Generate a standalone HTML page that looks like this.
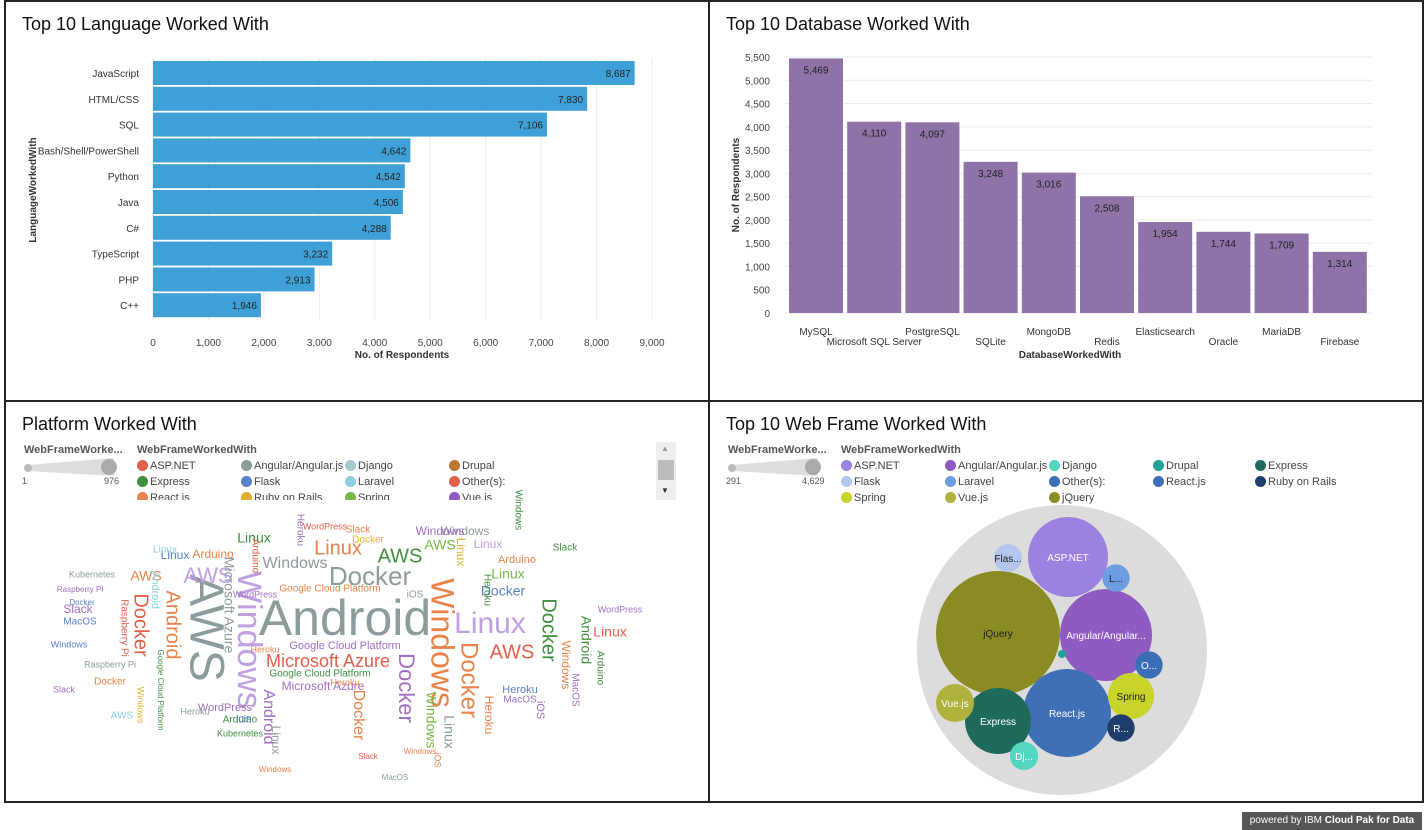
<!DOCTYPE html>
<html><head><meta charset="utf-8">
<style>
body{margin:0;width:1427px;height:830px;background:#fff;font-family:"Liberation Sans",sans-serif;overflow:hidden;position:relative}
.panel{position:absolute;border:2px solid #222;box-sizing:border-box;background:#fff}
.title{position:absolute;left:16px;top:12px;font-size:18px;color:#111}
svg text{font-family:"Liberation Sans",sans-serif}
.leg{position:absolute;font-size:11px;color:#444;white-space:nowrap}
.dot{display:inline-block;width:11px;height:11px;border-radius:50%;vertical-align:-2px;margin-right:2px}
</style></head><body>
<div class="panel" style="left:4px;top:0;width:706px;height:402px"><div class="title">Top 10 Language Worked With</div></div>
<div class="panel" style="left:708px;top:0;width:716px;height:402px"><div class="title">Top 10 Database Worked With</div></div>
<div class="panel" style="left:4px;top:400px;width:706px;height:403px"><div class="title">Platform Worked With</div></div>
<div class="panel" style="left:708px;top:400px;width:716px;height:403px"><div class="title">Top 10 Web Frame Worked With</div></div>
<div style="position:absolute;left:1242px;top:812px;width:180px;height:18px;background:#555;color:#fff;font-size:10px;line-height:18px;text-align:center">powered by IBM <b>Cloud Pak for Data</b></div>

<div class="leg" style="left:24px;top:444px;font-weight:bold;color:#555">WebFrameWorke...</div>
<svg style="position:absolute;left:22px;top:456px" width="100" height="30"><polygon points="6,9 92,2 92,20 6,15" fill="#ddd"/><circle cx="6" cy="12" r="4" fill="#bbb"/><circle cx="87" cy="11" r="8" fill="#aaa"/><text x="0" y="28" font-size="9" fill="#555">1</text><text x="82" y="28" font-size="9" fill="#555">976</text></svg>
<div class="leg" style="left:137px;top:444px;font-weight:bold;color:#555">WebFrameWorkedWith</div>
<div style="position:absolute;left:137px;top:460px;width:520px;height:40px;overflow:hidden">
<div class="leg" style="left:0;top:0"><span class="dot" style="background:#e0604b"></span>ASP.NET</div>
<div class="leg" style="left:104px;top:0"><span class="dot" style="background:#8c9c9c"></span>Angular/Angular.js</div>
<div class="leg" style="left:208px;top:0"><span class="dot" style="background:#a8c8d0"></span>Django</div>
<div class="leg" style="left:312px;top:0"><span class="dot" style="background:#b87a30"></span>Drupal</div>
<div class="leg" style="left:0;top:16px"><span class="dot" style="background:#3f8f3f"></span>Express</div>
<div class="leg" style="left:104px;top:16px"><span class="dot" style="background:#5a82c8"></span>Flask</div>
<div class="leg" style="left:208px;top:16px"><span class="dot" style="background:#8ccfe0"></span>Laravel</div>
<div class="leg" style="left:312px;top:16px"><span class="dot" style="background:#e0604b"></span>Other(s):</div>
<div class="leg" style="left:0;top:32px"><span class="dot" style="background:#e8834a"></span>React.js</div>
<div class="leg" style="left:104px;top:32px"><span class="dot" style="background:#e0b030"></span>Ruby on Rails</div>
<div class="leg" style="left:208px;top:32px"><span class="dot" style="background:#77b843"></span>Spring</div>
<div class="leg" style="left:312px;top:32px"><span class="dot" style="background:#8e5cc0"></span>Vue.js</div>
</div>
<div style="position:absolute;left:656px;top:442px;width:20px;height:58px;background:#eee"><div style="position:absolute;left:2px;top:18px;width:16px;height:20px;background:#bbb"></div><div style="position:absolute;left:5px;top:2px;font-size:8px;color:#999">▲</div><div style="position:absolute;left:5px;top:44px;font-size:8px;color:#333">▼</div></div>

<div class="leg" style="left:728px;top:444px;font-weight:bold;color:#555">WebFrameWorke...</div>
<svg style="position:absolute;left:726px;top:456px" width="100" height="30"><polygon points="6,9 92,2 92,20 6,15" fill="#ddd"/><circle cx="6" cy="12" r="4" fill="#bbb"/><circle cx="87" cy="11" r="8" fill="#aaa"/><text x="0" y="28" font-size="9" fill="#555">291</text><text x="76" y="28" font-size="9" fill="#555">4,629</text></svg>
<div class="leg" style="left:841px;top:444px;font-weight:bold;color:#555">WebFrameWorkedWith</div>
<div style="position:absolute;left:841px;top:460px;width:560px;height:50px">
<div class="leg" style="left:0;top:0"><span class="dot" style="background:#9b82e0"></span>ASP.NET</div>
<div class="leg" style="left:104px;top:0"><span class="dot" style="background:#8e5cc0"></span>Angular/Angular.js</div>
<div class="leg" style="left:208px;top:0"><span class="dot" style="background:#52d6c0"></span>Django</div>
<div class="leg" style="left:312px;top:0"><span class="dot" style="background:#1fa396"></span>Drupal</div>
<div class="leg" style="left:414px;top:0"><span class="dot" style="background:#1e6b5c"></span>Express</div>
<div class="leg" style="left:0;top:16px"><span class="dot" style="background:#b4c6ee"></span>Flask</div>
<div class="leg" style="left:104px;top:16px"><span class="dot" style="background:#6c9de0"></span>Laravel</div>
<div class="leg" style="left:208px;top:16px"><span class="dot" style="background:#3a6fb8"></span>Other(s):</div>
<div class="leg" style="left:312px;top:16px"><span class="dot" style="background:#3f6fb5"></span>React.js</div>
<div class="leg" style="left:414px;top:16px"><span class="dot" style="background:#1d3e6d"></span>Ruby on Rails</div>
<div class="leg" style="left:0;top:32px"><span class="dot" style="background:#c8d42a"></span>Spring</div>
<div class="leg" style="left:104px;top:32px"><span class="dot" style="background:#b0b23e"></span>Vue.js</div>
<div class="leg" style="left:208px;top:32px"><span class="dot" style="background:#8a8c23"></span>jQuery</div>
</div>

<svg id="main" width="1427" height="830" style="position:absolute;left:0;top:0"></svg>
<script>
const langCats=["JavaScript","HTML/CSS","SQL","Bash/Shell/PowerShell","Python","Java","C#","TypeScript","PHP","C++"];
const langVals=[8687,7830,7106,4642,4542,4506,4288,3232,2913,1946];
const langTicks=[0,1000,2000,3000,4000,5000,6000,7000,8000,9000];
const dbCats=["MySQL","Microsoft SQL Server","PostgreSQL","SQLite","MongoDB","Redis","Elasticsearch","Oracle","MariaDB","Firebase"];
const dbVals=[5469,4110,4097,3248,3016,2508,1954,1744,1709,1314];
const dbTicks=[0,500,1000,1500,2000,2500,3000,3500,4000,4500,5000,5500];
const wfCats=["jQuery","ASP.NET","Angular/Angular.js","React.js","Express","Spring","Vue.js","Django","Flask","Laravel","Ruby on Rails","Other(s):","Drupal"];
const wfVals=[4629,1930,2550,2330,1310,640,435,310,300,291,291,291,291];
const wfColors=["#8a8c23","#9b82e0","#8e5cc0","#3f6fb5","#1e6b5c","#c8d42a","#b0b23e","#52d6c0","#b4c6ee","#6c9de0","#1d3e6d","#3a6fb8","#1fa396"];
const wfLabels=["jQuery","ASP.NET","Angular/Angular...","React.js","Express","Spring","Vue.js","Dj...","Flas...","L...","R...","O...",""];

const S=document.getElementById('main');const NS="http://www.w3.org/2000/svg";
function mk(t,a,txt){const e=document.createElementNS(NS,t);for(const k in a)e.setAttribute(k,a[k]);if(txt!==undefined)e.textContent=txt;S.appendChild(e);return e;}
const fmt=v=>v.toLocaleString('en-US');

const lx=v=>153+v*(499/9000);const ly=i=>73+i*25.8;
langTicks.forEach(t=>{const g=mk('line',{x1:lx(t),x2:lx(t),y1:58,y2:320,stroke:'#ececec'});
const tl=mk('text',{x:lx(t),y:346,'font-size':10,fill:'#444','text-anchor':'middle'},fmt(t));});
langCats.forEach((c,i)=>{const b=mk('rect',{x:lx(0),y:ly(i)-12,width:lx(langVals[i])-lx(0),height:24,fill:'#3fa0d8'});
const l=mk('text',{x:139,y:ly(i)+4,'font-size':10,fill:'#333','text-anchor':'end'},c);
const v=mk('text',{x:lx(langVals[i])-4,y:ly(i)+4,'font-size':10,fill:'#222','text-anchor':'end'},fmt(langVals[i]));});
let t=mk('text',{x:402,y:358,'font-size':10,'font-weight':'bold',fill:'#333','text-anchor':'middle'},'No. of Respondents');
t=mk('text',{x:36,y:190,'font-size':10,'font-weight':'bold',fill:'#333','text-anchor':'middle',transform:'rotate(-90 36 190)'},'LanguageWorkedWith');

const dy=v=>313-v*(256/5500);const dx=i=>816+i*58.2;
dbTicks.forEach(tk=>{const g=mk('line',{x1:785,x2:1372,y1:dy(tk),y2:dy(tk),stroke:'#ececec'});
const tl=mk('text',{x:770,y:dy(tk)+4,'font-size':10,fill:'#444','text-anchor':'end'},fmt(tk));});
dbCats.forEach((c,i)=>{const b=mk('rect',{x:dx(i)-27,y:dy(dbVals[i]),width:54,height:dy(0)-dy(dbVals[i]),fill:'#8e72a8'});
const v=mk('text',{x:dx(i),y:dy(dbVals[i])+15,'font-size':10,fill:'#222','text-anchor':'middle'},fmt(dbVals[i]));
const l=mk('text',{x:dx(i),y:i%2?345:335,'font-size':10,fill:'#333','text-anchor':'middle'},c);});
t=mk('text',{x:1070,y:358,'font-size':10,'font-weight':'bold',fill:'#333','text-anchor':'middle'},'DatabaseWorkedWith');
t=mk('text',{x:739,y:185,'font-size':10,'font-weight':'bold',fill:'#333','text-anchor':'middle',transform:'rotate(-90 739 185)'},'No. of Respondents');

const outer=mk('circle',{cx:1062,cy:650,r:145,fill:'#dcdcdc'});
const bubblePos=[[998,633],[1068,557],[1106,635],[1067,713],[998,721],[1131,696],[955,703],[1024,756],[1008,558],[1116,578],[1121,728],[1149,665],[1062,654]];
const rMax=62;const rr=v=>rMax*Math.sqrt(v/Math.max(...wfVals));
wfCats.forEach((c,i)=>{const r=i==12?4:rr(wfVals[i])*(i>6?0.88:1);const b=mk('circle',{cx:bubblePos[i][0],cy:bubblePos[i][1],r:r,fill:wfColors[i]});
if(wfLabels[i]){const l=mk('text',{x:bubblePos[i][0],y:bubblePos[i][1]+4,'font-size':10,fill:[0,5,8,9].includes(i)?'#222':'#fff','text-anchor':'middle'},wfLabels[i]);}});

const C={g:'#8c9c9c',o:'#e8834a',r:'#e0604b',p:'#a070c0',l:'#c0a0e0',gr:'#3f8f3f',b:'#5a82c8',lb:'#8ccfe0',br:'#b87a30',y:'#e0b030',li:'#77b843'};
const words=[
["Android",345,622,50,'g',0],["AWS",203,628,48,'g',90],["Windows",247,640,34,'l',90],["Windows",440,643,32,'o',90],
["Linux",490,625,30,'l',0],["Docker",370,578,26,'g',0],["AWS",208,577,22,'l',0],["Docker",140,625,20,'r',90],
["Android",172,625,20,'o',90],["Microsoft Azure",328,662,18,'r',0],["Docker",468,680,24,'o',90],["Docker",405,688,22,'p',90],
["AWS",512,653,20,'r',0],["Docker",548,630,20,'gr',90],["Linux",338,549,20,'o',0],["AWS",400,557,20,'gr',0],
["Windows",295,564,16,'g',0],["Docker",503,592,14,'b',0],["Linux",508,575,14,'li',0],["Microsoft Azure",228,605,14,'g',90],
["Android",268,717,16,'p',90],["Docker",358,715,16,'o',90],["Linux",448,732,14,'g',90],["Windows",430,720,14,'li',90],
["Heroku",488,715,12,'o',90],["Linux",610,633,14,'r',0],["Android",585,640,14,'gr',90],["Windows",565,665,12,'o',90],
["AWS",146,577,14,'o',0],["Linux",175,556,12,'b',0],["Arduino",213,555,12,'o',0],["Linux",254,539,14,'gr',0],
["WordPress",225,708,11,'p',0],["Microsoft Azure",323,687,12,'p',0],["Google Cloud Platform",345,646,11,'p',0],
["Google Cloud Platform",330,589,10,'o',0],["Kubernetes",240,734,9,'gr',0],["Slack",78,610,12,'p',0],["MacOS",80,622,10,'b',0],
["Windows",69,645,9,'b',0],["AWS",440,546,14,'li',0],["Windows",465,532,12,'g',0],["Linux",488,545,12,'l',0],
["Heroku",487,590,10,'gr',90],["Arduino",517,560,11,'o',0],["Slack",358,530,10,'o',0],["Docker",368,540,10,'y',0],
["WordPress",325,527,9,'r',0],["iOS",415,595,10,'g',0],["Google Cloud Platform",320,674,10,'gr',0],["Heroku",345,683,9,'o',0],
["Arduino",240,720,10,'gr',0],["AWS",122,716,10,'lb',0],["Docker",110,682,10,'o',0],
["Kubernetes",92,575,9,'g',0],["Android",155,590,11,'lb',90],["MacOS",520,700,10,'p',0],["iOS",540,710,11,'p',90],
["Heroku",520,690,11,'b',0],["Windows",518,510,10,'gr',90],["Slack",565,548,10,'gr',0],["Arduino",600,668,10,'gr',90],
["MacOS",575,690,10,'p',90],["Windows",440,532,12,'p',0],["Linux",460,552,12,'y',90],["Raspberry Pi",124,628,10,'r',90],
["Docker",82,603,8,'b',0],["Raspberry Pi",80,590,8,'p',0],["WordPress",620,610,9,'p',0],["Slack",64,690,9,'p',0],
["Heroku",300,530,10,'p',90],["Arduino",255,556,10,'r',90],["WordPress",255,595,9,'p',0],["iOS",244,720,9,'b',0],
["Linux",165,550,10,'lb',0],["Raspberry Pi",110,665,9,'g',0],["Google Cloud Platform",160,690,8,'gr',90],["Heroku",265,650,9,'o',0],
["Linux",275,740,12,'g',90],["Windows",275,770,8,'o',0],["Slack",368,757,8,'r',0],["Windows",420,752,8,'o',0],
["Heroku",195,712,9,'g',0],["Windows",140,705,9,'y',90],["iOS",437,760,9,'o',90],["MacOS",395,778,8,'g',0]];
words.forEach(w=>{const [txt,x,y,fs,c,rot]=w;const e=mk('text',{x:x,y:y,'font-size':fs,fill:C[c],'text-anchor':'middle','dominant-baseline':'middle',transform:rot?`rotate(${rot} ${x} ${y})`:''},txt);

});
</script>
</body></html>
